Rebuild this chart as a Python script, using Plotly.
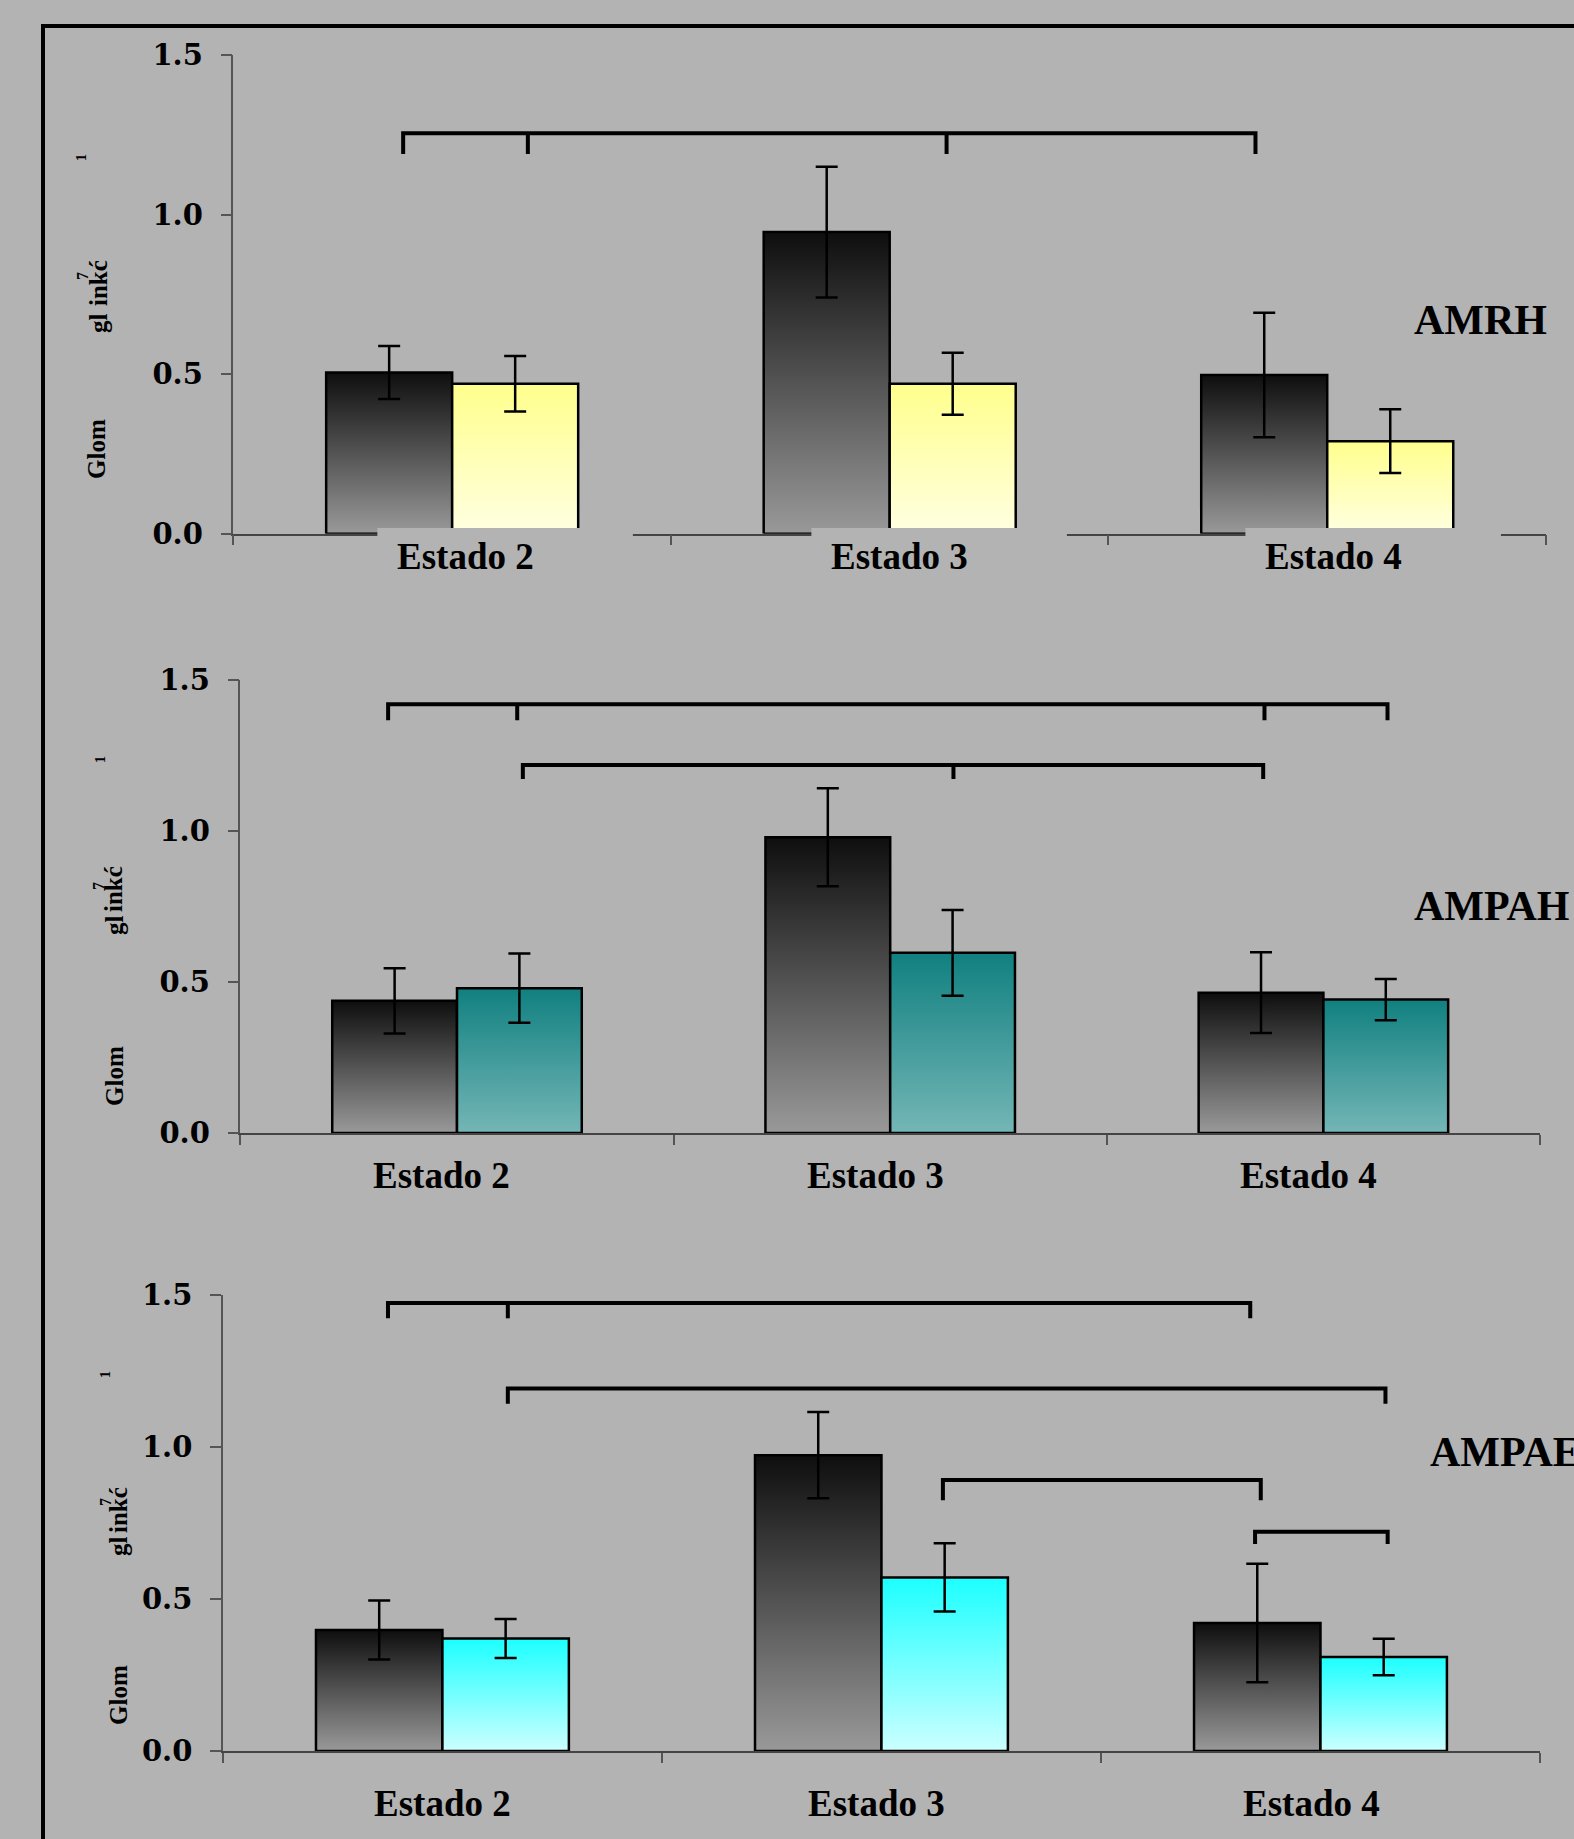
import plotly.graph_objects as go

# ---- data -------------------------------------------------------------
categories = ["Estado 2", "Estado 3", "Estado 4"]
panel_names = ["AMRH", "AMPAH", "AMPAE"]

# dark series (control) and coloured series per panel, with error (+/-)
amrh_ctrl = [0.505, 0.945, 0.497]
amrh_ctrl_err = [0.083, 0.205, 0.195]
amrh_trat = [0.47, 0.47, 0.29]
amrh_trat_err = [0.087, 0.097, 0.10]

ampah_ctrl = [0.438, 0.98, 0.465]
ampah_ctrl_err = [0.108, 0.162, 0.134]
ampah_trat = [0.48, 0.597, 0.442]
ampah_trat_err = [0.115, 0.142, 0.068]

ampae_ctrl = [0.398, 0.973, 0.421]
ampae_ctrl_err = [0.097, 0.142, 0.195]
ampae_trat = [0.37, 0.571, 0.309]
ampae_trat_err = [0.064, 0.112, 0.06]

# significance brackets: (height, x positions of the drops, drop length)
amrh_brackets = [(1.255, [-0.112, 0.173, 1.130, 1.836], 0.065)]
ampah_brackets = [(1.421, [-0.159, 0.139, 1.864, 2.148], 0.053),
                  (1.219, [0.152, 1.146, 1.861], 0.046)]
ampae_brackets = [(1.473, [-0.124, 0.149, 1.840], 0.05),
                  (1.192, [0.149, 2.148], 0.05),
                  (0.891, [1.140, 1.864], 0.066),
                  (0.721, [1.851, 2.153], 0.04)]

y_ticks = [0.0, 0.5, 1.0, 1.5]

# ---- styling ----------------------------------------------------------
W, H = 1574, 1839
BG = "#b3b3b3"
BAR_W = 0.288
DARK_SCALE = [[0, "#999999"], [1, "#0e0e0e"]]
LIGHT_SCALES = [
    [[0, "#ffffe2"], [1, "#ffff8c"]],   # yellow
    [[0, "#74b6b6"], [1, "#118080"]],   # teal
    [[0, "#ccffff"], [1, "#1cffff"]],   # cyan
]


def px_x(p):
    return p / W


def px_y(p):
    return 1 - p / H


# pixel frame of each plotting area: (left, right, top(1.5), bottom(0))
frames = [
    (233.4, 1546.0, 55.0, 533.7),
    (240.4, 1540.0, 680.3, 1133.0),
    (222.9, 1540.0, 1294.9, 1751.0),
]

panels = [
    (amrh_ctrl, amrh_ctrl_err, amrh_trat, amrh_trat_err, amrh_brackets),
    (ampah_ctrl, ampah_ctrl_err, ampah_trat, ampah_trat_err, ampah_brackets),
    (ampae_ctrl, ampae_ctrl_err, ampae_trat, ampae_trat_err, ampae_brackets),
]

fig = go.Figure()
xs = list(range(len(categories)))

for k, (ctrl, ctrl_err, trat, trat_err, brackets) in enumerate(panels):
    sfx = "" if k == 0 else str(k + 1)
    xa, ya = "x" + sfx, "y" + sfx
    series = ((ctrl, ctrl_err, -BAR_W, DARK_SCALE),
              (trat, trat_err, 0.0, LIGHT_SCALES[k]))

    # bars: outlined rectangles with a vertical gradient fill
    for vals, errs, off, scale in series:
        for c, v in zip(xs, vals):
            x0, x1 = c + off, c + off + BAR_W
            fig.add_trace(go.Scatter(
                x=[x0, x0, x1, x1, x0], y=[0, v, v, 0, 0],
                mode="lines", line=dict(color="black", width=2.5), fill="toself",
                fillgradient=dict(type="vertical", colorscale=scale),
                xaxis=xa, yaxis=ya, hoverinfo="skip", showlegend=False,
            ))

    # error bars at the bar tops
    for vals, errs, off, scale in series:
        fig.add_trace(go.Scatter(
            x=[c + off + BAR_W / 2 for c in xs], y=vals, mode="markers",
            marker=dict(size=1, color="rgba(0,0,0,0)"),
            error_y=dict(type="data", array=errs, color="black", thickness=2.5, width=11),
            xaxis=xa, yaxis=ya, hoverinfo="skip", showlegend=False,
        ))

    # brackets
    for yb, pts, d in brackets:
        bx = [pts[0], pts[0], pts[-1], pts[-1]]
        by = [yb - d, yb, yb, yb - d]
        for p in pts[1:-1]:
            bx += [None, p, p]
            by += [None, yb, yb - d]
        fig.add_trace(go.Scatter(
            x=bx, y=by, mode="lines", line=dict(color="black", width=4),
            xaxis=xa, yaxis=ya, hoverinfo="skip", showlegend=False,
        ))

    left, right, top, bottom = frames[k]
    fig.layout["xaxis" + sfx] = dict(
        domain=[px_x(left), px_x(right)], range=[-0.5, len(categories) - 0.5],
        anchor=ya, tickvals=[i - 0.5 for i in range(len(categories) + 1)],
        ticks="outside", ticklen=10, tickwidth=1.5, tickcolor="#555555",
        showticklabels=False, showline=True, linecolor="#444444", linewidth=1.5,
        showgrid=False, zeroline=False, fixedrange=True, automargin=False,
    )
    fig.layout["yaxis" + sfx] = dict(
        domain=[px_y(bottom), px_y(top)], range=[0, 1.5], anchor=xa,
        tickvals=y_ticks, tickformat=".1f", ticks="outside", ticklen=11,
        tickwidth=1.5, tickcolor="#555555", ticklabelstandoff=12,
        tickfont=dict(family="DejaVu Serif", size=29, color="black", weight="bold"),
        showline=True, linecolor="#555555", linewidth=1.5,
        showgrid=False, zeroline=False, fixedrange=True, automargin=False,
    )

annotations = []

# category labels under each panel: (y in px, per-label shift in category units)
label_rows = [(556.7, [0.030, 0.022, 0.014]),
              (1175.0, [-0.035, -0.035, -0.035]),
              (1803.0, [0.0, -0.011, -0.021])]
for k, (ypx, shifts) in enumerate(label_rows):
    sfx = "" if k == 0 else str(k + 1)
    for i, (name, dx) in enumerate(zip(categories, shifts)):
        annotations.append(dict(
            text=name, xref="x" + sfx, yref="paper", x=i + dx, y=px_y(ypx),
            xanchor="center", yanchor="middle", showarrow=False,
            font=dict(family="Liberation Serif", size=37, color="black", weight="bold"),
        ))

# panel names
name_pos = [(1412, 320), (1412, 906), (1428, 1452)]
for name, (xp, yp) in zip(panel_names, name_pos):
    annotations.append(dict(
        text=name, xref="paper", yref="paper", x=px_x(xp), y=px_y(yp),
        xanchor="left", yanchor="middle", showarrow=False,
        font=dict(family="Liberation Serif", size=42, color="black", weight="bold"),
    ))

# rotated axis-title fragments
title_bits = [
    # (text, x px, y px, size)
    ("Glom", 97, 449, 25), ("gl", 98, 323, 25), ("inkć", 98, 283, 25),
    ("7", 82, 276, 16), ("1", 82, 158, 14),
    ("Glom", 114, 1076, 25), ("gl", 114, 925, 25), ("inkć", 114, 889, 25),
    ("7", 98, 886, 16), ("1", 100, 760, 14),
    ("Glom", 118, 1695, 25), ("gl", 118, 1546, 25), ("inkć", 118, 1510, 25),
    ("7", 105, 1502, 16), ("1", 105, 1375, 14),
]
for text, xp, yp, sz in title_bits:
    annotations.append(dict(
        text=text, xref="paper", yref="paper", x=px_x(xp), y=px_y(yp),
        xanchor="center", yanchor="middle", showarrow=False, textangle=-90,
        font=dict(family="Liberation Serif", size=sz, color="black", weight="bold"),
    ))

shapes = [
    # outer frame running off the canvas on the right and bottom
    dict(type="rect", xref="paper", yref="paper", x0=px_x(43), x1=1.1,
         y0=-0.1, y1=px_y(26), line=dict(color="black", width=4), layer="above"),
]
# label boxes over the baseline of the top panel
for i, dx in enumerate(label_rows[0][1]):
    shapes.append(dict(
        type="rect", xref="x", yref="paper", x0=i + dx - 0.201, x1=i + dx + 0.383,
        y0=px_y(595), y1=px_y(528), fillcolor=BG, line=dict(width=0), layer="above",
    ))

fig.update_layout(
    template="none",
    width=W, height=H, margin=dict(l=0, r=0, t=0, b=0, pad=0, autoexpand=False),
    paper_bgcolor=BG, plot_bgcolor=BG, showlegend=False,
    annotations=annotations, shapes=shapes,
)

fig.write_html("out.html")
